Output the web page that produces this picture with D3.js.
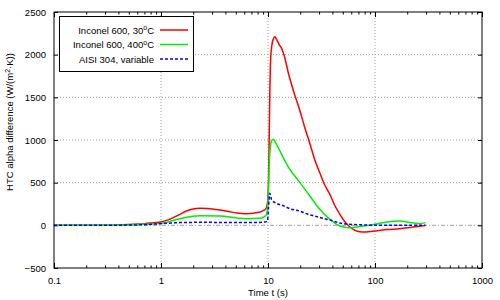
<!DOCTYPE html>
<html>
<head>
<meta charset="utf-8">
<script src="https://cdn.jsdelivr.net/npm/d3@7"></script>
<style>
  body { margin: 0; background: #fff; }
  svg text { font-family: "Liberation Sans", Arial, sans-serif; font-size: 9.5px; fill: #000; }
</style>
</head>
<body>
<svg width="500" height="300"></svg>
<script>
// data (t in s, HTC difference in W/(m2 K))
const redT = [0.1, 0.2, 0.3, 0.4, 0.5, 0.6, 0.7, 0.8, 0.9, 1.0, 1.2, 1.5, 1.73, 2.0, 2.3, 2.7, 3.57, 4.3, 5.1, 6.3, 7.3, 8.4, 9.1, 9.5, 9.8, 10.0, 10.2, 10.4, 10.6, 10.9, 11.3, 11.6, 12.0, 12.8, 13.4, 14.2, 15.6, 17.5, 19.9, 22, 24.6, 27, 30.6, 34, 37.9, 42, 47, 52, 56, 62, 72, 82, 100, 130, 170, 220, 296];
const redV = [0, 0, 2, 5, 10, 15, 20, 26, 32, 40, 70, 129, 168, 192, 200, 198, 180, 162, 144, 137, 142, 156, 176, 190, 235, 330, 800, 1560, 1965, 2120, 2195, 2210, 2180, 2113, 2074, 1984, 1770, 1555, 1340, 1150, 960, 790, 610, 470, 363, 235, 129, 45, 0, -45, -75, -77, -67, -50, -39, -22, -3];

const greenT = [0.1, 0.2, 0.3, 0.5, 0.7, 1.0, 1.5, 2.3, 3.57, 5.1, 6.3, 8.4, 9.1, 9.6, 9.9, 10.1, 10.4, 10.8, 11.2, 12.0, 13.4, 15.6, 17.5, 19.9, 24.6, 30.6, 37.9, 47, 58, 72, 100, 130, 170, 220, 262, 296];
const greenV = [0, 0, 1, 5, 12, 23, 78, 113, 109, 86, 78, 82, 97, 120, 200, 420, 850, 990, 1008, 950, 832, 676, 590, 500, 344, 185, 70, -8, -27, -15, 12, 40, 50, 30, 20, 32];

const blueT = [0.1, 0.3, 0.5, 0.7, 1.0, 1.5, 2.3, 4, 6, 8, 9.5, 9.9, 10.1, 10.4, 10.8, 12, 14, 16, 20, 23, 28, 33, 38, 47, 58, 80, 100, 150, 296];
const blueV = [0, 0, 3, 8, 20, 32, 35, 34, 33, 34, 40, 60, 200, 375, 300, 258, 228, 195, 165, 135, 105, 80, 62, 27, 12, 5, 0, 0, 0];

const seriesNames = ['Inconel 600, 30', 'Inconel 600, 400', 'AISI 304, variable'];
const seriesSup = ['o', 'o', ''];
const seriesTail = ['C', 'C', ''];
const seriesColors = ['#ff0000', '#00ee00', '#0000ff'];
const seriesDash = [null, null, '3,2'];

const xTicks = [0.1, 1, 10, 100, 1000];
const yTicks = [-500, 0, 500, 1000, 1500, 2000, 2500];

const svg = d3.select('svg');
const margin = {left: 54, right: 18, top: 12, bottom: 32};
const width = +svg.attr('width');
const height = +svg.attr('height');
const x0 = margin.left, x1 = width - margin.right;
const y0 = height - margin.bottom, y1 = margin.top;

const x = d3.scaleLog().domain([0.1, 1000]).range([x0, x1]);
const y = d3.scaleLinear().domain([-500, 2500]).range([y0, y1]);

// minor ticks 2..9 per decade
const minorTicks = [];
[0.1, 1, 10, 100].forEach(d => { for (let k = 2; k <= 9; k++) minorTicks.push(d * k); });

// grid
const grid = svg.append('g');
grid.selectAll('line.gx')
    .data(xTicks.filter(d => d > 0.1 && d < 1000))
    .enter().append('line')
        .attr('x1', d => x(d)).attr('x2', d => x(d))
        .attr('y1', y0).attr('y2', y1)
        .attr('stroke', '#a0a0a0').attr('stroke-width', 1)
        .attr('stroke-dasharray', '1,2');
grid.selectAll('line.gy')
    .data(yTicks.filter(d => d > 0 && d < 2500))
    .enter().append('line')
        .attr('x1', x0).attr('x2', x1)
        .attr('y1', d => y(d)).attr('y2', d => y(d))
        .attr('stroke', '#a0a0a0').attr('stroke-width', 1)
        .attr('stroke-dasharray', '1,2');
// zero axis
grid.append('line')
    .attr('x1', x0).attr('x2', x1)
    .attr('y1', y(0)).attr('y2', y(0))
    .attr('stroke', '#a0a0a0').attr('stroke-width', 1)
    .attr('stroke-dasharray', '4,2,1,2');

// axes, ticks point inward
const axisStyle = g => {
    g.select('.domain').remove();
    g.selectAll('.tick line').attr('stroke', '#000');
    g.selectAll('.tick text').style('font-size', '9.5px');
};

svg.append('g').attr('transform', `translate(0,${y0})`)
    .call(d3.axisBottom(x).tickValues(xTicks).tickFormat(d3.format('~g')).tickSizeInner(-5).tickSizeOuter(0).tickPadding(9))
    .call(axisStyle);
svg.append('g').attr('transform', `translate(0,${y0})`)
    .call(d3.axisBottom(x).tickValues(minorTicks).tickFormat('').tickSizeInner(-2.5).tickSizeOuter(0))
    .call(axisStyle);
svg.append('g').attr('transform', `translate(0,${y1})`)
    .call(d3.axisTop(x).tickValues(xTicks).tickFormat('').tickSizeInner(-5).tickSizeOuter(0))
    .call(axisStyle);
svg.append('g').attr('transform', `translate(0,${y1})`)
    .call(d3.axisTop(x).tickValues(minorTicks).tickFormat('').tickSizeInner(-2.5).tickSizeOuter(0))
    .call(axisStyle);
svg.append('g').attr('transform', `translate(${x0},0)`)
    .call(d3.axisLeft(y).tickValues(yTicks).tickFormat(d3.format('d')).tickSizeInner(-4).tickSizeOuter(0).tickPadding(8))
    .call(axisStyle);
svg.append('g').attr('transform', `translate(${x1},0)`)
    .call(d3.axisRight(y).tickValues(yTicks).tickFormat('').tickSizeInner(-4).tickSizeOuter(0))
    .call(axisStyle);

// curves
const line = d3.line()
    .x(d => x(d[0]))
    .y(d => y(d[1]))
    .curve(d3.curveMonotoneX);

const series = [
    d3.zip(redT, redV),
    d3.zip(greenT, greenV),
    d3.zip(blueT, blueV)
];

svg.append('g').selectAll('path')
    .data(series)
    .enter().append('path')
        .attr('d', line)
        .attr('fill', 'none')
        .attr('stroke', (d, i) => seriesColors[i])
        .attr('stroke-width', 1.5)
        .attr('stroke-dasharray', (d, i) => seriesDash[i])
        .attr('stroke-linejoin', 'round');

// border
svg.append('rect')
    .attr('x', x0).attr('y', y1)
    .attr('width', x1 - x0).attr('height', y0 - y1)
    .attr('fill', 'none').attr('stroke', '#000').attr('stroke-width', 1);

// legend
const legend = svg.append('g');
legend.append('rect')
    .attr('x', 59.5).attr('y', 16.5).attr('width', 134).attr('height', 55)
    .attr('fill', '#fff').attr('stroke', '#000').attr('stroke-width', 1);
const rows = legend.selectAll('g.row')
    .data(seriesNames)
    .enter().append('g')
        .attr('transform', (d, i) => `translate(0,${30 + i * 14.5})`);
rows.append('line')
    .attr('x1', 160).attr('x2', 188)
    .attr('y1', 0).attr('y2', 0)
    .attr('stroke', (d, i) => seriesColors[i])
    .attr('stroke-width', 1.5)
    .attr('stroke-dasharray', (d, i) => seriesDash[i]);
const lt = rows.append('text')
    .attr('x', 154).attr('y', 3.5)
    .attr('text-anchor', 'end');
lt.append('tspan').text(d => d);
lt.append('tspan')
    .attr('dy', (d, i) => seriesSup[i] ? -3.5 : 0)
    .style('font-size', '7px')
    .text((d, i) => seriesSup[i]);
lt.append('tspan')
    .attr('dy', (d, i) => seriesSup[i] ? 3.5 : 0)
    .text((d, i) => seriesTail[i]);

// axis titles
svg.append('text')
    .attr('x', (x0 + x1) / 2).attr('y', 296)
    .attr('text-anchor', 'middle')
    .text('Time t (s)');

const yl = svg.append('text')
    .attr('transform', 'translate(13,122) rotate(-90)')
    .attr('text-anchor', 'middle');
yl.append('tspan').text('HTC alpha difference  (W/(m');
yl.append('tspan').attr('dy', -3.5).style('font-size', '7px').text('2');
yl.append('tspan').attr('dy', 3.5).text('\u00b7K))');
</script>
</body>
</html>
